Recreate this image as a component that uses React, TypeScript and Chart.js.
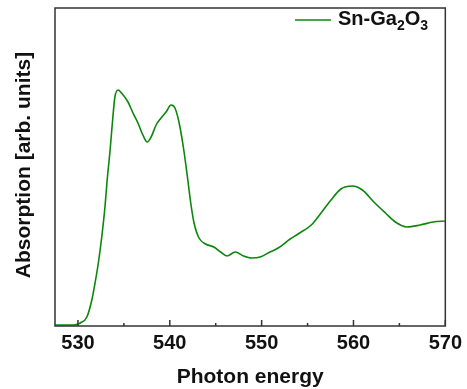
import React, { useEffect, useRef } from "react";
import { Chart, registerables } from "chart.js";

Chart.register(...registerables);

const energy = [527.5, 528.5, 529.5, 530.0, 530.25, 530.97, 531.51, 531.86, 532.22, 532.59, 532.94, 533.19, 533.48, 533.84, 534.02, 534.37, 534.74, 535.45, 535.99, 536.53, 537.07, 537.54, 537.97, 538.51, 539.05, 539.59, 540.13, 540.56, 541.02, 541.49, 541.92, 542.28, 542.64, 543.18, 543.9, 544.8, 545.52, 546.23, 547.13, 548.03, 548.93, 549.84, 550.91, 551.8, 553.1, 553.96, 555.4, 556.47, 557.55, 558.63, 559.89, 560.97, 562.22, 563.48, 564.56, 565.82, 567.25, 568.69, 569.96];
const absorption = [1, 1, 1, 2, 3, 9, 26, 43, 63, 89, 119, 147, 174, 213, 229, 236, 233, 224, 213, 203, 191, 184, 189, 201, 208, 214, 221, 218, 203, 178, 149, 123, 103, 88, 82, 79, 74, 70, 74, 70, 68, 69, 74, 78, 87, 92, 101, 113, 126, 137, 140, 136, 124, 113, 104, 99, 101, 104, 105];
const majorTicks = [530, 540, 550, 560, 570];
const minorTicks = [535, 545, 555, 565];
const seriesName = ["Sn-Ga", "2", "O", "3"];
const xTitle = "Photon energy";
const yTitle = "Absorption [arb. units]";

const FONT = "'Liberation Sans', Arial, sans-serif";
const GREEN = "#0b870b";
const AXIS = "#333333";

export default function App() {
  const ref = useRef<HTMLCanvasElement>(null);
  useEffect(() => {
    document.body.style.margin = "0";
    const canvas = ref.current!;
    const decor = {
      id: "decor",
      afterDatasetsDraw(chart: any) {
        const { ctx, chartArea: a, scales } = chart;
        const xs = scales.x;
        ctx.save();
        ctx.strokeStyle = AXIS;
        ctx.lineWidth = 1.5;
        ctx.strokeRect(a.left, a.top, a.right - a.left, a.bottom - a.top);
        ctx.beginPath();
        majorTicks.forEach((t) => {
          const px = xs.getPixelForValue(t);
          ctx.moveTo(px, a.bottom);
          ctx.lineTo(px, a.bottom - 6);
        });
        minorTicks.forEach((t) => {
          const px = xs.getPixelForValue(t);
          ctx.moveTo(px, a.bottom);
          ctx.lineTo(px, a.bottom - 3);
        });
        ctx.stroke();
        ctx.fillStyle = "#111";
        ctx.font = `bold 21px ${FONT}`;
        ctx.textAlign = "center";
        ctx.textBaseline = "alphabetic";
        ctx.fillText(xTitle, (a.left + a.right) / 2, 383);
        ctx.save();
        ctx.translate(30, (a.top + a.bottom) / 2 - 2);
        ctx.rotate(-Math.PI / 2);
        ctx.fillText(yTitle, 0, 0);
        ctx.restore();
        ctx.strokeStyle = GREEN;
        ctx.lineWidth = 1.5;
        ctx.beginPath();
        ctx.moveTo(295, 20);
        ctx.lineTo(331, 20);
        ctx.stroke();
        ctx.textAlign = "left";
        let x = 338;
        const base = 25;
        const big = `bold 20px ${FONT}`;
        const small = `bold 14px ${FONT}`;
        seriesName.forEach((s, i) => {
          const sub = i % 2 === 1;
          ctx.font = sub ? small : big;
          ctx.fillText(s, x, sub ? base + 5 : base);
          x += ctx.measureText(s).width;
        });
        ctx.restore();
      },
    };
    const chart = new Chart(canvas, {
      type: "line",
      data: {
        datasets: [
          {
            label: "Sn-Ga2O3",
            data: energy.map((e, i) => ({ x: e, y: absorption[i] })),
            borderColor: GREEN,
            borderWidth: 1.6,
            pointRadius: 0,
            fill: false,
            cubicInterpolationMode: "monotone",
          },
        ],
      },
      options: {
        animation: false,
        responsive: false,
        maintainAspectRatio: false,
        layout: { padding: { left: 55, right: 19, top: 8, bottom: 0 } },
        plugins: { legend: { display: false }, tooltip: { enabled: false } },
        scales: {
          x: {
            type: "linear",
            min: 527.5,
            max: 570,
            grid: { display: false, drawTicks: false },
            border: { display: false },
            afterFit: (s: any) => {
              s.height = 63;
            },
            afterBuildTicks: (s: any) => {
              s.ticks = majorTicks.map((v) => ({ value: v }));
            },
            ticks: {
              padding: 5,
              color: "#111",
              font: { family: FONT, size: 20, weight: "bold" },
              maxRotation: 0,
              autoSkip: false,
            },
          },
          y: {
            display: false,
            min: 0,
            max: 318,
          },
        },
      },
      plugins: [decor],
    });
    return () => chart.destroy();
  }, []);
  return <canvas ref={ref} width={467} height={389} style={{ display: "block" }} />;
}
